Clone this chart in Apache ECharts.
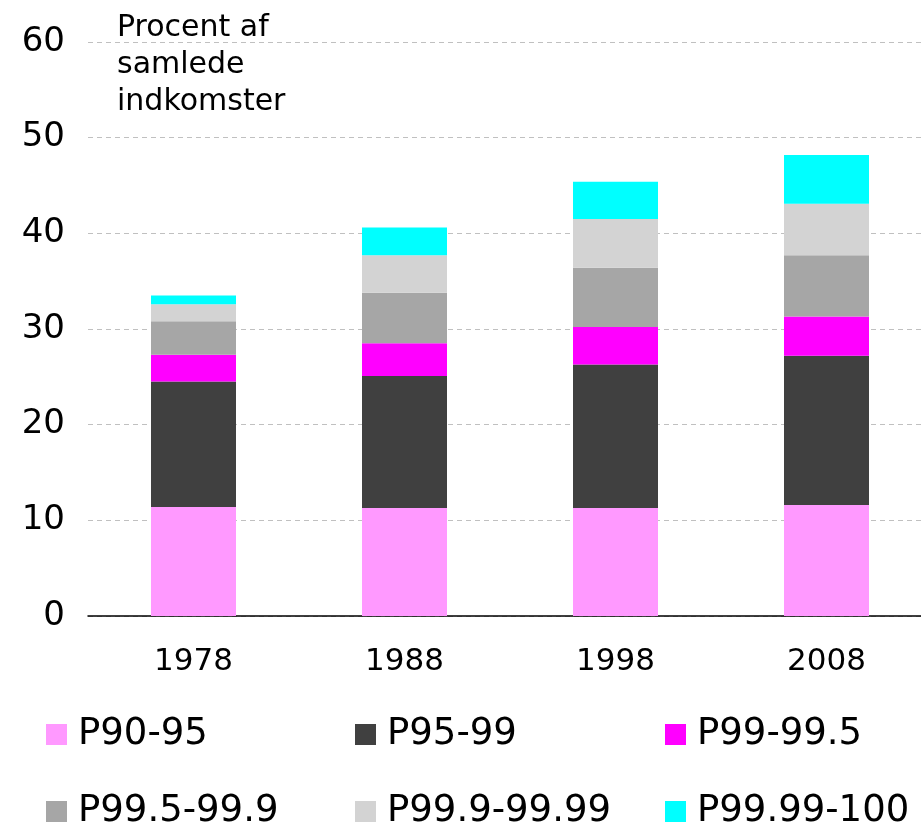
<!DOCTYPE html>
<html>
<head>
<meta charset="utf-8">
<script src="https://cdn.jsdelivr.net/npm/echarts@6/dist/echarts.min.js"></script>
<style>
  html, body { margin: 0; padding: 0; background: #fff; }
  #chart { width: 921px; height: 825px; }
</style>
</head>
<body>
<div id="chart"></div>
<script>
/**
 * Data: share of total income (%) by top-income group
 */
let years = ['1978', '1988', '1998', '2008'];
let seriesNames = ['P90-95', 'P95-99', 'P99-99.5', 'P99.5-99.9', 'P99.9-99.99', 'P99.99-100'];
let p90to95 = [11.4, 11.3, 11.3, 11.6];
let p95to99 = [13.1, 13.8, 15.0, 15.6];
let p99to995 = [2.8, 3.4, 3.9, 4.1];
let p995to999 = [3.5, 5.3, 6.2, 6.4];
let p999to9999 = [1.8, 3.9, 5.1, 5.4];
let p9999to100 = [0.9, 2.9, 3.9, 5.1];
let yTicks = [0, 10, 20, 30, 40, 50, 60];

let colors = ['#FF99FF', '#404040', '#FF00FF', '#A6A6A6', '#D3D3D3', '#00FFFF'];
let values = [p90to95, p95to99, p99to995, p995to999, p999to9999, p9999to100];
let fontFamily = '"DejaVu Sans", Verdana, sans-serif';

// legend laid out as a 3 x 2 table
let legendCols = [46, 355, 665];
let legendRows = [716, 793];

let legends = seriesNames.map(function (name, i) {
    return {
        data: [name],
        left: legendCols[i % 3],
        top: legendRows[Math.floor(i / 3)],
        padding: 0,
        icon: 'rect',
        itemWidth: 21,
        itemHeight: 21,
        selectedMode: false,
        textStyle: {
            fontFamily: fontFamily,
            fontSize: 37,
            color: '#000',
            padding: [0, 0, 0, 6]
        }
    };
});

let option = {
    animation: false,
    color: colors,
    title: {
        text: 'Procent af\nsamlede\nindkomster',
        left: 112,
        top: 5,
        textStyle: {
            fontFamily: fontFamily,
            fontSize: 30,
            fontWeight: 'normal',
            lineHeight: 37,
            color: '#000'
        }
    },
    legend: legends,
    grid: {
        left: 88,
        top: 42,
        width: 844,
        bottom: 209,
        containLabel: false,
        outerBoundsMode: 'none'
    },
    xAxis: {
        type: 'category',
        data: years,
        axisLine: { lineStyle: { color: '#000', width: 1.5 } },
        axisTick: { length: 14, lineStyle: { color: '#000' } },
        axisLabel: {
            fontFamily: fontFamily,
            fontSize: 31,
            color: '#000',
            margin: 30
        }
    },
    yAxis: {
        type: 'value',
        min: yTicks[0],
        max: yTicks[yTicks.length - 1],
        interval: 10,
        axisLine: { show: false },
        axisTick: { show: false },
        axisLabel: {
            fontFamily: fontFamily,
            fontSize: 34,
            color: '#000',
            margin: 23,
            padding: [6, 0, 0, 0]
        },
        splitLine: {
            lineStyle: { color: '#C0C0C0', type: [5, 4], width: 1 }
        }
    },
    series: seriesNames.map(function (name, i) {
        return {
            name: name,
            type: 'bar',
            stack: 'total',
            barWidth: 85,
            data: values[i],
            itemStyle: { color: colors[i] }
        };
    })
};

let chart = echarts.init(document.getElementById('chart'));
chart.setOption(option);
</script>
</body>
</html>
